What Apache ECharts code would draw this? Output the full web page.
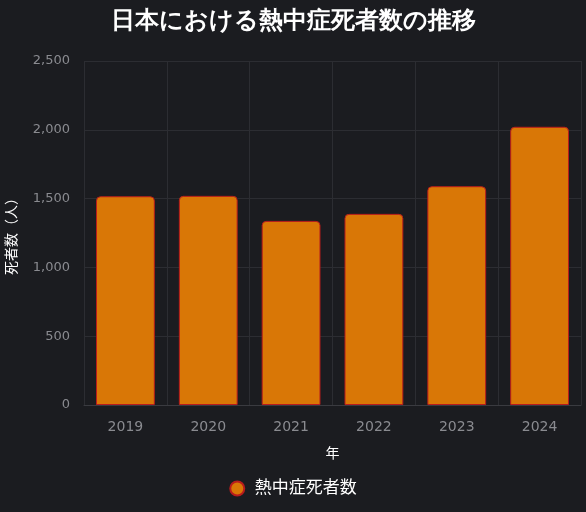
<!DOCTYPE html>
<html>
<head>
<meta charset="utf-8">
<script src="https://cdn.jsdelivr.net/npm/echarts@6/dist/echarts.min.js"></script>
<style>
  html, body { margin: 0; padding: 0; background: #1b1c20; }
  #main { width: 586px; height: 512px; }
</style>
</head>
<body>
<div id="main"></div>
<script>
const years = ['2019', '2020', '2021', '2022', '2023', '2024'];
const deaths = [1517, 1520, 1338, 1389, 1590, 2022];
const seriesName = '熱中症死者数';

const chart = echarts.init(document.getElementById('main'));
chart.setOption({
  backgroundColor: '#1b1c20',
  textStyle: { fontFamily: '"DejaVu Sans", "Noto Sans CJK JP", sans-serif' },
  title: {
    text: '日本における熱中症死者数の推移',
    left: 'center',
    top: 4,
    textStyle: { color: '#ffffff', fontSize: 24, fontWeight: 'bold', fontFamily: 'sans-serif' }
  },
  legend: {
    bottom: 10,
    icon: 'circle',
    textStyle: { color: '#ffffff', fontSize: 17 },
    data: [seriesName]
  },
  grid: { left: 84, right: 5, top: 61, bottom: 107, outerBoundsMode: 'none' },
  xAxis: {
    type: 'category',
    data: years,
    name: '年',
    nameLocation: 'middle',
    nameGap: 42,
    nameTextStyle: { color: '#ffffff', fontSize: 14 },
    axisLine: { lineStyle: { color: '#3a3b40' } },
    axisTick: { length: 8, lineStyle: { color: '#3a3b40' } },
    axisLabel: { color: '#8a8b90', fontSize: 14, margin: 15 },
    splitLine: { show: true, lineStyle: { color: '#2c2d32' } }
  },
  yAxis: {
    type: 'value',
    min: 0,
    max: 2500,
    interval: 500,
    name: '死者数（人）',
    nameLocation: 'middle',
    nameGap: 65,
    nameTextStyle: { color: '#ffffff', fontSize: 14 },
    axisLine: { show: false },
    axisTick: { show: false },
    axisLabel: { color: '#8a8b90', fontSize: 13, margin: 14 },
    splitLine: { lineStyle: { color: '#2c2d32' } }
  },
  series: [{
    name: seriesName,
    type: 'bar',
    data: deaths,
    barWidth: '71%',
    itemStyle: {
      color: '#d97706',
      borderColor: '#b91c1c',
      borderWidth: 1,
      borderRadius: [4, 4, 0, 0]
    }
  }]
});
</script>
</body>
</html>
